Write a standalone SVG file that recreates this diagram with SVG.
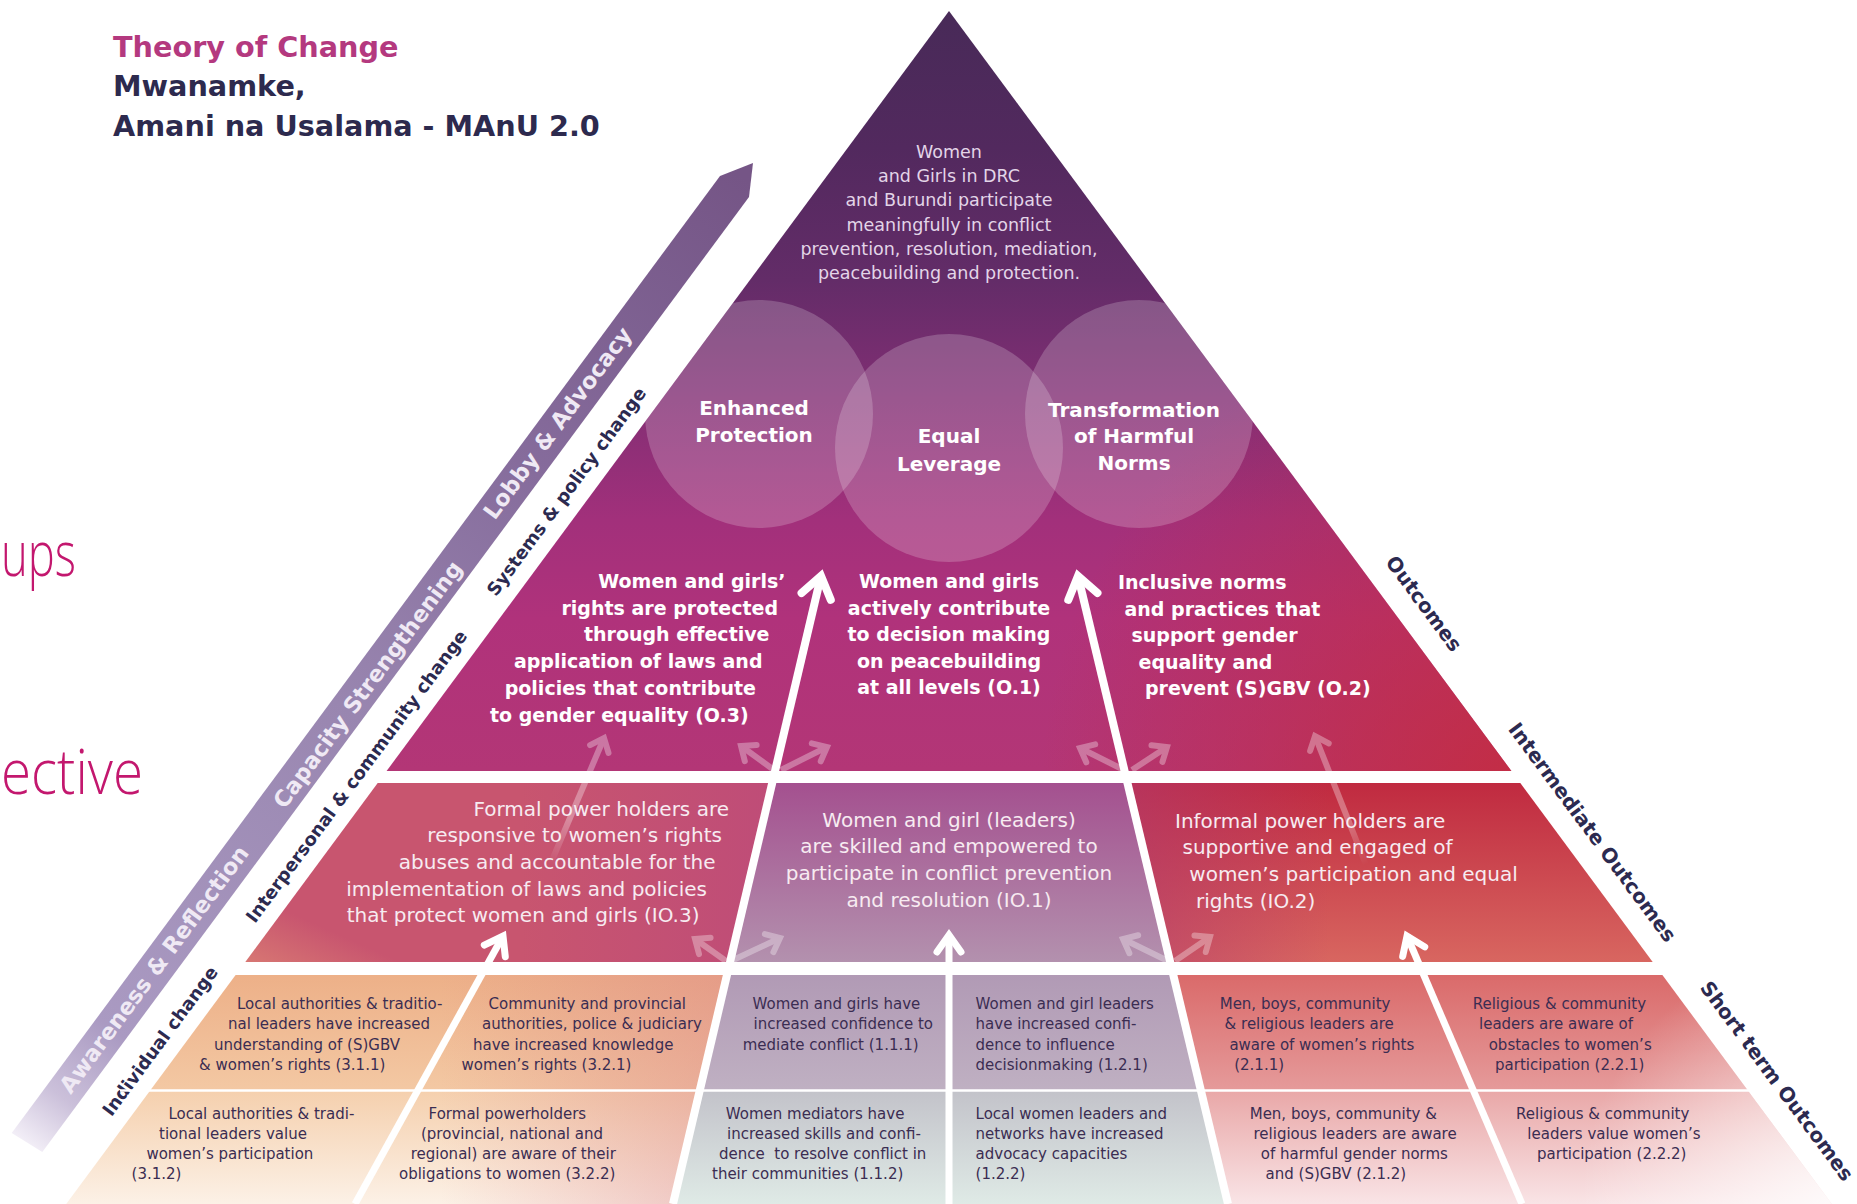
<svg xmlns="http://www.w3.org/2000/svg" width="1857" height="1204" viewBox="0 0 1857 1204">
<style>
text{font-family:"DejaVu Sans","Liberation Sans",sans-serif}
.h1{font-size:28.7px;font-weight:bold;fill:#2d2a4e}
.h1m{fill:#b4397f}
.goal{font-size:17.5px;fill:#e3d5e8;text-anchor:middle}
.circ{font-size:20px;font-weight:bold;fill:#fff;text-anchor:middle}
.out{font-size:19px;font-weight:bold;fill:#fff}
.io{font-size:20px;fill:#f7ebf1}
.st{font-size:15px;fill:#3b2d52}
.lvl{font-size:18px;font-weight:bold;fill:#2c2a50;text-anchor:middle}
.lvr{font-size:20px}
.ban{font-size:22.5px;font-weight:bold;fill:#efe9f4;text-anchor:middle}
.stray{font-family:"Open Sans","Liberation Sans",sans-serif;font-weight:300;font-size:62px;fill:#c3176e}
.end{text-anchor:end}
.mid{text-anchor:middle}
</style>
<defs>
  <linearGradient id="gOut" gradientUnits="userSpaceOnUse" x1="0" y1="11" x2="0" y2="771">
    <stop offset="0" stop-color="#482a58"/>
    <stop offset="0.18" stop-color="#52295e"/>
    <stop offset="0.354" stop-color="#632c68"/>
    <stop offset="0.51" stop-color="#822e74"/>
    <stop offset="0.67" stop-color="#a2307b"/>
    <stop offset="0.8" stop-color="#b0327b"/>
    <stop offset="1" stop-color="#b33676"/>
  </linearGradient>
  <radialGradient id="gOutRed" gradientUnits="userSpaceOnUse" cx="1520" cy="790" r="480">
    <stop offset="0" stop-color="#c62b3b" stop-opacity="0.85"/>
    <stop offset="1" stop-color="#c62b3b" stop-opacity="0"/>
  </radialGradient>
  <linearGradient id="gIoL" gradientUnits="userSpaceOnUse" x1="0" y1="783" x2="-80" y2="962">
    <stop offset="0" stop-color="#c8556f"/>
    <stop offset="0.45" stop-color="#dd8474"/>
    <stop offset="1" stop-color="#eeab7a"/>
  </linearGradient>
  <linearGradient id="gIoLh" gradientUnits="userSpaceOnUse" x1="760" y1="0" x2="520" y2="0">
    <stop offset="0" stop-color="#b8467e" stop-opacity="0.55"/>
    <stop offset="1" stop-color="#b8467e" stop-opacity="0"/>
  </linearGradient>
  <linearGradient id="gIoC" gradientUnits="userSpaceOnUse" x1="0" y1="783" x2="0" y2="962">
    <stop offset="0" stop-color="#a4508f"/>
    <stop offset="1" stop-color="#b391ae"/>
  </linearGradient>
  <linearGradient id="gIoR" gradientUnits="userSpaceOnUse" x1="0" y1="783" x2="0" y2="962">
    <stop offset="0" stop-color="#c02a40"/>
    <stop offset="1" stop-color="#d86660"/>
  </linearGradient>
  <linearGradient id="gIoRm" gradientUnits="userSpaceOnUse" x1="1130" y1="0" x2="1330" y2="0">
    <stop offset="0" stop-color="#b23a6e" stop-opacity="0.6"/>
    <stop offset="1" stop-color="#b23a6e" stop-opacity="0"/>
  </linearGradient>
  <linearGradient id="gStL" gradientUnits="userSpaceOnUse" x1="0" y1="975" x2="0" y2="1204">
    <stop offset="0" stop-color="#edb088"/>
    <stop offset="0.5" stop-color="#f3c8a3"/>
    <stop offset="0.51" stop-color="#f5d0ae"/>
    <stop offset="1" stop-color="#fcf1e6"/>
  </linearGradient>
  <linearGradient id="gStLh" gradientUnits="userSpaceOnUse" x1="730" y1="0" x2="440" y2="0">
    <stop offset="0" stop-color="#d97e86" stop-opacity="0.4"/>
    <stop offset="1" stop-color="#d97e86" stop-opacity="0"/>
  </linearGradient>
  <linearGradient id="gStC" gradientUnits="userSpaceOnUse" x1="0" y1="975" x2="0" y2="1204">
    <stop offset="0" stop-color="#b19ab5"/>
    <stop offset="0.5" stop-color="#bfb0c2"/>
    <stop offset="0.51" stop-color="#c3c3ca"/>
    <stop offset="1" stop-color="#dfeae6"/>
  </linearGradient>
  <linearGradient id="gStR" gradientUnits="userSpaceOnUse" x1="0" y1="975" x2="0" y2="1204">
    <stop offset="0" stop-color="#da6a6a"/>
    <stop offset="0.5" stop-color="#e59a9a"/>
    <stop offset="0.51" stop-color="#e9a8a8"/>
    <stop offset="1" stop-color="#f9e4e6"/>
  </linearGradient>
  <radialGradient id="gStRw" gradientUnits="userSpaceOnUse" cx="1840" cy="1204" r="260">
    <stop offset="0" stop-color="#fff" stop-opacity="0.85"/>
    <stop offset="1" stop-color="#fff" stop-opacity="0"/>
  </radialGradient>
  <linearGradient id="gBanner" gradientUnits="userSpaceOnUse" x1="740" y1="175" x2="25" y2="1145">
    <stop offset="0" stop-color="#755586"/>
    <stop offset="0.3" stop-color="#866c9c"/>
    <stop offset="0.55" stop-color="#9986b0"/>
    <stop offset="0.88" stop-color="#aa9ac2"/>
    <stop offset="0.95" stop-color="#cbc0da"/>
    <stop offset="1" stop-color="#f4f0f8"/>
  </linearGradient>
  <linearGradient id="gFade1" gradientUnits="userSpaceOnUse" x1="550" y1="865" x2="606" y2="734">
    <stop offset="0" stop-color="#fff" stop-opacity="0"/>
    <stop offset="0.35" stop-color="#fff" stop-opacity="1"/>
    <stop offset="1" stop-color="#fff" stop-opacity="1"/>
  </linearGradient>
  <linearGradient id="gFade2" gradientUnits="userSpaceOnUse" x1="1366" y1="865" x2="1313" y2="732">
    <stop offset="0" stop-color="#fff" stop-opacity="0"/>
    <stop offset="0.35" stop-color="#fff" stop-opacity="1"/>
    <stop offset="1" stop-color="#fff" stop-opacity="1"/>
  </linearGradient>
  <clipPath id="clipOut">
    <polygon points="949,11 1511.4,771 386.6,771"/>
  </clipPath>
  <marker id="headL" markerUnits="userSpaceOnUse" orient="auto" refX="0" refY="0" markerWidth="60" markerHeight="60" overflow="visible">
    <path d="M-21,-15 L0,0 L-21,15" fill="none" stroke="#fff" stroke-width="8" stroke-linecap="round"/>
  </marker>
  <marker id="headS" markerUnits="userSpaceOnUse" orient="auto" refX="0" refY="0" markerWidth="50" markerHeight="50" overflow="visible">
    <path d="M-17,-12 L0,0 L-17,12" fill="none" stroke="#fff" stroke-width="7" stroke-linecap="round"/>
  </marker>
  <marker id="headF" markerUnits="userSpaceOnUse" orient="auto" refX="0" refY="0" markerWidth="40" markerHeight="40" overflow="visible">
    <path d="M-12,-10 L0,0 L-12,10" fill="none" stroke="#fff" stroke-width="6" stroke-linecap="round"/>
  </marker>
</defs>

<rect width="1857" height="1204" fill="#fff"/>

<!-- fragments of neighbouring slide text at the left margin -->
<g id="margin-text">
  <text class="stray" x="1" y="576" textLength="75" lengthAdjust="spacingAndGlyphs">ups</text>
  <text class="stray" x="1" y="794" textLength="142" lengthAdjust="spacingAndGlyphs">ective</text>
</g>

<!-- heading -->
<g id="title">
  <text class="h1 h1m" x="113" y="56.5">Theory of Change</text>
  <text class="h1" x="113" y="96">Mwanamke,</text>
  <text class="h1" x="113" y="136">Amani na Usalama - MAnU 2.0</text>
</g>

<!-- strategy banner along the left side -->
<g id="strategy-banner">
  <polygon points="720,176 753,163 749,197 42.3,1152 11.7,1133" fill="url(#gBanner)"/>
  <text class="ban" transform="translate(557.5,423) rotate(-53.5)" dy=".35em">Lobby &amp; Advocacy</text>
  <text class="ban" transform="translate(367.7,684.5) rotate(-53.5)" dy=".35em">Capacity Strengthening</text>
  <text class="ban" transform="translate(154,969.3) rotate(-53.5)" dy=".35em">Awareness &amp; Reflection</text>
</g>

<!-- levels of change -->
<g id="change-levels">
  <text class="lvl" transform="translate(566.5,491.5) rotate(-53.5)" dy=".35em">Systems &amp; policy change</text>
  <text class="lvl" transform="translate(356.5,776.3) rotate(-53.5)" dy=".35em">Interpersonal &amp; community change</text>
  <text class="lvl" transform="translate(160,1041) rotate(-53.5)" dy=".35em">Individual change</text>
</g>

<!-- outcome tiers -->
<g id="outcome-tiers">
  <text class="lvl lvr" transform="translate(1424,603.5) rotate(53.5)" dy=".35em">Outcomes</text>
  <text class="lvl lvr" transform="translate(1592.5,832.3) rotate(53.5)" dy=".35em">Intermediate Outcomes</text>
  <text class="lvl lvr" transform="translate(1777,1081) rotate(53.5)" dy=".35em">Short term Outcomes</text>
</g>

<!-- pyramid bands -->
<g id="pyramid">
  <polygon points="949,11 1511.4,771 386.6,771" fill="url(#gOut)"/>
  <polygon points="949,11 1511.4,771 386.6,771" fill="url(#gOutRed)"/>
  <polygon points="377.7,783 772.2,783 730,962 245.3,962" fill="url(#gIoL)"/>
  <polygon points="377.7,783 772.2,783 730,962 245.3,962" fill="url(#gIoLh)"/>
  <polygon points="772.2,783 1127.4,783 1170.2,962 730,962" fill="url(#gIoC)"/>
  <polygon points="1127.4,783 1520.3,783 1652.7,962 1170.2,962" fill="url(#gIoR)"/>
  <polygon points="1127.4,783 1520.3,783 1652.7,962 1170.2,962" fill="url(#gIoRm)"/>
  <polygon points="235.6,975 727,975 673,1204 66.2,1204" fill="url(#gStL)"/>
  <polygon points="235.6,975 727,975 673,1204 66.2,1204" fill="url(#gStLh)"/>
  <polygon points="727,975 1173.3,975 1228,1204 673,1204" fill="url(#gStC)"/>
  <polygon points="1173.3,975 1662.4,975 1831.8,1204 1228,1204" fill="url(#gStR)"/>
  <polygon points="1173.3,975 1662.4,975 1831.8,1204 1228,1204" fill="url(#gStRw)"/>
  <line x1="120" y1="1090.5" x2="1780" y2="1090.5" stroke="#fff" stroke-width="2.5"/>
</g>

<!-- the three outcome pillars -->
<g id="pillars" clip-path="url(#clipOut)" fill="#fff" fill-opacity="0.2">
  <circle id="pillar-protection" cx="759" cy="414" r="114"/>
  <circle id="pillar-leverage" cx="949" cy="448" r="114"/>
  <circle id="pillar-norms" cx="1139" cy="414" r="114"/>
</g>

<!-- pathways of change -->
<g id="connectors" fill="none" stroke="#fff">
  <path d="M673,1204 L821,576" stroke-width="8" marker-end="url(#headL)"/>
  <path d="M1228,1204 L1078,576" stroke-width="8" marker-end="url(#headL)"/>
  <path d="M949,1204 L949,935" stroke-width="7" marker-end="url(#headS)"/>
  <path d="M355,1204 L503,936" stroke-width="7" marker-end="url(#headS)"/>
  <path d="M1522,1204 L1407,936" stroke-width="7" marker-end="url(#headS)"/>
  <g opacity="0.32" stroke-width="6">
    <path d="M774,770 L741,746" marker-end="url(#headF)"/>
    <path d="M781,770 L827,747" marker-end="url(#headF)"/>
    <path d="M1124,770 L1080,748" marker-end="url(#headF)"/>
    <path d="M1132,770 L1167,747" marker-end="url(#headF)"/>
    <path d="M726,961 L695,939" marker-end="url(#headF)"/>
    <path d="M731,961 L780,938" marker-end="url(#headF)"/>
    <path d="M1168,961 L1123,939" marker-end="url(#headF)"/>
    <path d="M1175,961 L1210,937" marker-end="url(#headF)"/>
    <path d="M550,865 L604,738" stroke="url(#gFade1)" marker-end="url(#headF)"/>
    <path d="M1366,865 L1315,736" stroke="url(#gFade2)" marker-end="url(#headF)"/>
  </g>
</g>

<!-- impact statement -->
<g id="impact">
  <text class="goal" x="949" y="157.5">Women</text>
  <text class="goal" x="949" y="181.8">and Girls in DRC</text>
  <text class="goal" x="949" y="206.2">and Burundi participate</text>
  <text class="goal" x="949" y="230.6">meaningfully in conflict</text>
  <text class="goal" x="949" y="255">prevention, resolution, mediation,</text>
  <text class="goal" x="949" y="279.4">peacebuilding and protection.</text>
</g>

<g id="pillar-labels">
  <text class="circ" x="754" y="415">Enhanced</text>
  <text class="circ" x="754" y="442">Protection</text>
  <text class="circ" x="949" y="443">Equal</text>
  <text class="circ" x="949" y="471">Leverage</text>
  <text class="circ" x="1134" y="416.5">Transformation</text>
  <text class="circ" x="1134" y="443">of Harmful</text>
  <text class="circ" x="1134" y="469.5">Norms</text>
</g>

<g id="O3">
  <text class="out end" x="785.5" y="588.4">Women and girls’</text>
  <text class="out end" x="778" y="614.7">rights are protected</text>
  <text class="out end" x="769.5" y="641">through effective</text>
  <text class="out end" x="762.5" y="668">application of laws and</text>
  <text class="out end" x="756" y="694.7">policies that contribute</text>
  <text class="out end" x="748.7" y="721.5">to gender equality (O.3)</text>
</g>
<g id="O1">
  <text class="out mid" x="949" y="588">Women and girls</text>
  <text class="out mid" x="949" y="614.6">actively contribute</text>
  <text class="out mid" x="949" y="641.2">to decision making</text>
  <text class="out mid" x="949" y="667.8">on peacebuilding</text>
  <text class="out mid" x="949" y="694.4">at all levels (O.1)</text>
</g>
<g id="O2">
  <text class="out" x="1118" y="589">Inclusive norms</text>
  <text class="out" x="1124.5" y="615.5">and practices that</text>
  <text class="out" x="1131.5" y="642">support gender</text>
  <text class="out" x="1138.5" y="668.5">equality and</text>
  <text class="out" x="1145" y="695">prevent (S)GBV (O.2)</text>
</g>

<g id="IO3">
  <text class="io end" x="729" y="815.7">Formal power holders are</text>
  <text class="io end" x="722" y="842.3">responsive to women’s rights</text>
  <text class="io end" x="715.5" y="869">abuses and accountable for the</text>
  <text class="io end" x="707" y="895.5">implementation of laws and policies</text>
  <text class="io end" x="699.5" y="922">that protect women and girls (IO.3)</text>
</g>
<g id="IO1">
  <text class="io mid" x="949" y="826.5">Women and girl (leaders)</text>
  <text class="io mid" x="949" y="853.2">are skilled and empowered to</text>
  <text class="io mid" x="949" y="880">participate in conflict prevention</text>
  <text class="io mid" x="949" y="906.7">and resolution (IO.1)</text>
</g>
<g id="IO2">
  <text class="io" x="1175" y="827.7">Informal power holders are</text>
  <text class="io" x="1182.5" y="854">supportive and engaged of</text>
  <text class="io" x="1189.3" y="881">women’s participation and equal</text>
  <text class="io" x="1196" y="908">rights (IO.2)</text>
</g>

<g id="st-3-1-1">
  <text class="st" x="237" y="1009">Local authorities &amp; traditio-</text>
  <text class="st" x="228" y="1029.3">nal leaders have increased</text>
  <text class="st" x="214" y="1049.5">understanding of (S)GBV</text>
  <text class="st" x="199" y="1069.5">&amp; women’s rights (3.1.1)</text>
</g>
<g id="st-3-2-1">
  <text class="st" x="488.6" y="1009">Community and provincial</text>
  <text class="st" x="482" y="1029.3">authorities, police &amp; judiciary</text>
  <text class="st" x="473" y="1049.5">have increased knowledge</text>
  <text class="st" x="461.6" y="1069.5">women’s rights (3.2.1)</text>
</g>
<g id="st-1-1-1">
  <text class="st" x="752.6" y="1009">Women and girls have</text>
  <text class="st" x="753.5" y="1029.3">increased confidence to</text>
  <text class="st" x="742.7" y="1049.5">mediate conflict (1.1.1)</text>
</g>
<g id="st-1-2-1">
  <text class="st" x="975.6" y="1009">Women and girl leaders</text>
  <text class="st" x="975.6" y="1029.3">have increased confi-</text>
  <text class="st" x="975.6" y="1049.5">dence to influence</text>
  <text class="st" x="975.6" y="1069.5">decisionmaking (1.2.1)</text>
</g>
<g id="st-2-1-1">
  <text class="st" x="1219.7" y="1009">Men, boys, community</text>
  <text class="st" x="1224.6" y="1029.3">&amp; religious leaders are</text>
  <text class="st" x="1229.4" y="1049.5">aware of women’s rights</text>
  <text class="st" x="1234.2" y="1069.5">(2.1.1)</text>
</g>
<g id="st-2-2-1">
  <text class="st" x="1472.7" y="1009">Religious &amp; community</text>
  <text class="st" x="1479" y="1029.3">leaders are aware of</text>
  <text class="st" x="1488.7" y="1049.5">obstacles to women’s</text>
  <text class="st" x="1495" y="1069.5">participation (2.2.1)</text>
</g>

<g id="st-3-1-2">
  <text class="st" x="168.4" y="1118.5">Local authorities &amp; tradi-</text>
  <text class="st" x="159" y="1138.7">tional leaders value</text>
  <text class="st" x="146.4" y="1159">women’s participation</text>
  <text class="st" x="131.6" y="1179">(3.1.2)</text>
</g>
<g id="st-3-2-2">
  <text class="st" x="428.6" y="1118.5">Formal powerholders</text>
  <text class="st" x="421" y="1138.7">(provincial, national and</text>
  <text class="st" x="410.7" y="1159">regional) are aware of their</text>
  <text class="st" x="399" y="1179">obligations to women (3.2.2)</text>
</g>
<g id="st-1-1-2">
  <text class="st" x="725.8" y="1118.5">Women mediators have</text>
  <text class="st" x="727" y="1138.7">increased skills and confi-</text>
  <text class="st" x="719" y="1159" xml:space="preserve">dence  to resolve conflict in</text>
  <text class="st" x="712" y="1179">their communities (1.1.2)</text>
</g>
<g id="st-1-2-2">
  <text class="st" x="975.6" y="1118.5">Local women leaders and</text>
  <text class="st" x="975.6" y="1138.7">networks have increased</text>
  <text class="st" x="975.6" y="1159">advocacy capacities</text>
  <text class="st" x="975.6" y="1179">(1.2.2)</text>
</g>
<g id="st-2-1-2">
  <text class="st" x="1249.7" y="1118.5">Men, boys, community &amp;</text>
  <text class="st" x="1253.5" y="1138.7">religious leaders are aware</text>
  <text class="st" x="1260.8" y="1159">of harmful gender norms</text>
  <text class="st" x="1265.6" y="1179">and (S)GBV (2.1.2)</text>
</g>
<g id="st-2-2-2">
  <text class="st" x="1516" y="1118.5">Religious &amp; community</text>
  <text class="st" x="1527.3" y="1138.7">leaders value women’s</text>
  <text class="st" x="1537" y="1159">participation (2.2.2)</text>
</g>
</svg>
